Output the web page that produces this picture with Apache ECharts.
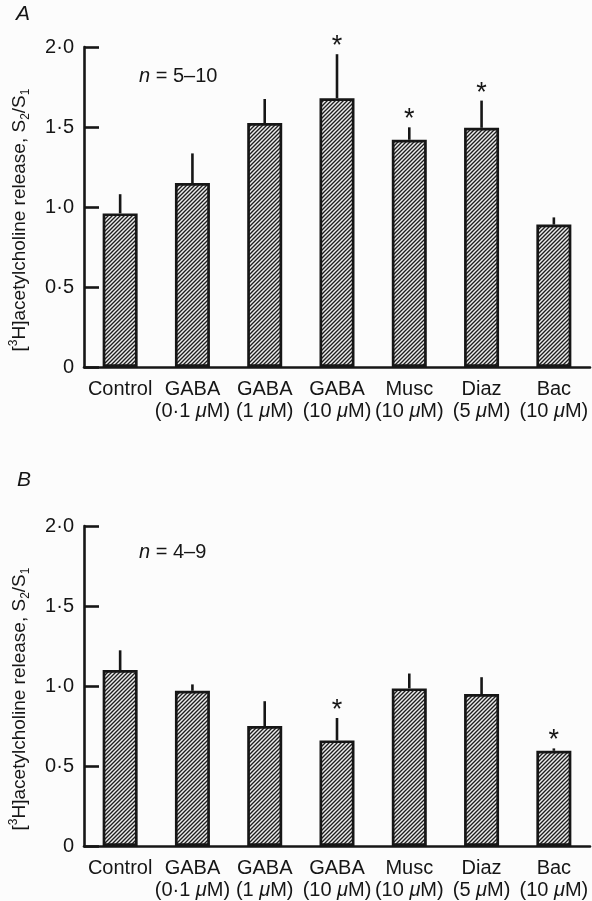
<!DOCTYPE html>
<html>
<head>
<meta charset="utf-8">
<script src="https://cdn.jsdelivr.net/npm/echarts@6/dist/echarts.min.js"></script>
<style>
html,body{margin:0;padding:0;background:#fcfcfc;}
#chart{width:592px;height:901px;}
</style>
</head>
<body>
<div id="chart"></div>
<script>
// ---- data ----
const categories = ['Control', 'GABA', 'GABA', 'GABA', 'Musc', 'Diaz', 'Bac'];
const concentrations = ['', '0·1', '1', '10', '10', '5', '10'];
const yTicks = ['0', '0·5', '1·0', '1·5', '2·0'];

const meanA = [0.96, 1.15, 1.525, 1.68, 1.42, 1.495, 0.89];
const semA  = [0.12, 0.185, 0.15, 0.275, 0.078, 0.17, 0.045];
const sigA  = [0, 0, 0, 1, 1, 1, 0];

const meanB = [1.10, 0.97, 0.75, 0.66, 0.985, 0.95, 0.595];
const semB  = [0.123, 0.04, 0.155, 0.14, 0.093, 0.105, 0.015];
const sigB  = [0, 0, 0, 1, 0, 0, 1];

const FONT = '"Liberation Sans", Arial, Helvetica, sans-serif';
const INK = '#161616';

// hatch pattern
function makeHatch() {
  const c = document.createElement('canvas');
  const s = 4;
  c.width = s; c.height = s;
  const g = c.getContext('2d');
  g.fillStyle = '#ececec';
  g.fillRect(0, 0, s, s);
  g.strokeStyle = '#1e1e1e';
  g.lineWidth = 1.35;
  g.beginPath();
  g.moveTo(-1, s + 1); g.lineTo(s + 1, -1);
  g.moveTo(-1, 1); g.lineTo(1, -1);
  g.moveTo(s - 1, s + 1); g.lineTo(s + 1, s - 1);
  g.stroke();
  return c;
}
const hatch = makeHatch();

const chart = echarts.init(document.getElementById('chart'), null, {renderer: 'canvas'});

function xAxisFor(gridIndex) {
  return {
    type: 'category',
    gridIndex: gridIndex,
    data: categories,
    axisLine: {lineStyle: {color: INK, width: 2.6}},
    axisTick: {show: false},
    axisLabel: {
      interval: 0,
      margin: 11,
      formatter: function (v, i) {
        const c = concentrations[i];
        if (!c) return '{t|' + v + '}';
        return '{t|' + v + '}\n{t|(' + c + ' }{mu|μ}{t|M)}';
      },
      rich: {
        t: {fontFamily: FONT, fontSize: 20, color: INK, lineHeight: 22},
        mu: {fontFamily: FONT, fontSize: 20, color: INK, lineHeight: 22, fontStyle: 'italic'}
      }
    }
  };
}

function yAxisFor(gridIndex) {
  return {
    type: 'value',
    gridIndex: gridIndex,
    min: 0, max: 2, interval: 0.5,
    splitLine: {show: false},
    axisLine: {show: true, lineStyle: {color: INK, width: 2.6}},
    axisTick: {show: true, inside: true, length: 15, lineStyle: {color: INK, width: 2.6}},
    axisLabel: {
      margin: 10,
      fontFamily: FONT, fontSize: 20, color: INK,
      formatter: function (v) { return yTicks[Math.round(v / 0.5)]; }
    },
    name: '{t|[}{sup|3}{t|H]acetylcholine release, S}{sub|2}{t|/S}{sub|1}',
    nameLocation: 'middle',
    nameRotate: 90,
    nameGap: 52,
    nameTextStyle: {
      padding: [0, 26, 0, 0],
      rich: {
        t: {fontFamily: FONT, fontSize: 19, color: INK, lineHeight: 24, verticalAlign: 'middle'},
        sup: {fontFamily: FONT, fontSize: 12, color: INK, lineHeight: 24, verticalAlign: 'top'},
        sub: {fontFamily: FONT, fontSize: 12, color: INK, lineHeight: 14, verticalAlign: 'bottom'}
      }
    }
  };
}

function barSeries(idx, means) {
  return {
    type: 'bar',
    xAxisIndex: idx, yAxisIndex: idx,
    data: means,
    barWidth: 35,
    z: 3,
    itemStyle: {
      color: {image: hatch, repeat: 'repeat'},
      borderColor: INK,
      borderWidth: 2.7
    }
  };
}

function errSeries(idx, means, sems, sigs) {
  return {
    type: 'custom',
    xAxisIndex: idx, yAxisIndex: idx,
    z: 2,
    data: means.map(function (m, i) { return [i, m, sems[i], sigs[i]]; }),
    encode: {x: 0, y: 1},
    renderItem: function (params, api) {
      const i = api.value(0), m = api.value(1), e = api.value(2), s = api.value(3);
      const p0 = api.coord([i, m]);
      const p1 = api.coord([i, m + e]);
      const children = [{
        type: 'line',
        shape: {x1: p0[0], y1: p0[1], x2: p1[0], y2: p1[1]},
        style: {stroke: INK, lineWidth: 2.6}
      }];
      if (s) {
        children.push({
          type: 'text',
          style: {
            text: '*', x: p1[0], y: p1[1] - 21,
            align: 'center', verticalAlign: 'top',
            font: '27px ' + FONT, fill: INK
          }
        });
      }
      return {type: 'group', children: children};
    }
  };
}

function nText(x, y, range) {
  return {
    type: 'text', left: x, top: y,
    style: {
      text: '{i|n}{t| = ' + range + '}',
      rich: {
        i: {fontFamily: FONT, fontSize: 20, fontStyle: 'italic', fill: INK},
        t: {fontFamily: FONT, fontSize: 20, fill: INK}
      }
    }
  };
}

chart.setOption({
  backgroundColor: '#fcfcfc',
  animation: false,
  grid: [
    {left: 84, right: 2, top: 47, height: 320},
    {left: 84, right: 2, top: 526, height: 320}
  ],
  xAxis: [xAxisFor(0), xAxisFor(1)],
  yAxis: [yAxisFor(0), yAxisFor(1)],
  series: [
    barSeries(0, meanA), errSeries(0, meanA, semA, sigA),
    barSeries(1, meanB), errSeries(1, meanB, semB, sigB)
  ],
  graphic: [
    {type: 'text', left: 16, top: 4, style: {text: 'A', font: 'italic 21px ' + FONT, fill: INK}},
    {type: 'text', left: 17, top: 470, style: {text: 'B', font: 'italic 21px ' + FONT, fill: INK}},
    nText(139, 66, '5–10'),
    nText(139, 542, '4–9')
  ]
});
</script>
</body>
</html>
